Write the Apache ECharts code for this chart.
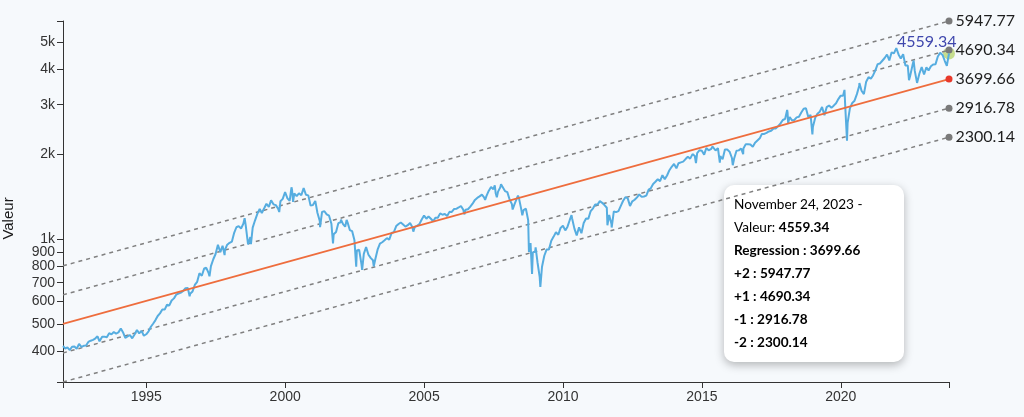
<!DOCTYPE html>
<html><head><meta charset="utf-8">
<script src="https://cdn.jsdelivr.net/npm/echarts@6/dist/echarts.min.js"></script>
<style>html,body{margin:0;padding:0;background:#f6f9fc;}#c{width:1024px;height:417px;}</style>
</head><body><div id="c"></div>
<script>
// ---- DATA ----
const startYear = 1992;
// S&P 500 month-end closes, Jan 1992 .. Oct 2023
const monthlyCloses = [
/*1992*/ 408.79,412.70,403.69,414.95,415.35,408.14,424.21,414.03,417.80,418.68,431.35,435.71,
/*1993*/ 438.78,443.38,451.67,440.19,450.19,450.53,448.13,463.56,458.93,467.83,461.79,466.45,
/*1994*/ 481.61,467.14,445.77,450.91,456.50,444.27,458.26,475.49,462.69,472.35,453.69,459.27,
/*1995*/ 470.42,487.39,500.71,514.71,533.40,544.75,562.06,561.88,584.41,581.50,605.37,615.93,
/*1996*/ 636.02,640.43,645.50,654.17,669.12,670.63,639.95,651.99,687.33,705.27,757.02,740.74,
/*1997*/ 786.16,790.82,757.12,801.34,848.28,885.14,954.29,899.47,947.28,914.62,955.40,970.43,
/*1998*/ 980.28,1049.34,1101.75,1111.75,1090.82,1133.84,1120.67,957.28,1017.01,1098.67,1163.63,1229.23,
/*1999*/ 1279.64,1238.33,1286.37,1335.18,1301.84,1372.71,1328.72,1320.41,1282.71,1362.93,1388.91,1469.25,
/*2000*/ 1394.46,1366.42,1498.58,1452.43,1420.60,1454.60,1430.83,1517.68,1436.51,1429.40,1314.95,1320.28,
/*2001*/ 1366.01,1239.94,1160.33,1249.46,1255.82,1224.42,1211.23,1133.58,1040.94,1059.78,1139.45,1148.08,
/*2002*/ 1130.20,1106.73,1147.39,1076.92,1067.14,989.82,911.62,916.07,815.28,885.76,936.31,879.82,
/*2003*/ 855.70,841.15,848.18,916.92,963.59,974.50,990.31,1008.01,995.97,1050.71,1058.20,1111.92,
/*2004*/ 1131.13,1144.94,1126.21,1107.30,1120.68,1140.84,1101.72,1104.24,1114.58,1130.20,1173.82,1211.92,
/*2005*/ 1181.27,1203.60,1180.59,1156.85,1191.50,1191.33,1234.18,1220.33,1228.81,1207.01,1249.48,1248.29,
/*2006*/ 1280.08,1280.66,1294.83,1310.61,1270.09,1270.20,1276.66,1303.82,1335.85,1377.94,1400.63,1418.30,
/*2007*/ 1438.24,1406.82,1420.86,1482.37,1530.62,1503.35,1455.27,1473.99,1526.75,1549.38,1481.14,1468.36,
/*2008*/ 1378.55,1330.63,1322.70,1385.59,1400.38,1280.00,1267.38,1282.83,1166.36,968.75,896.24,903.25,
/*2009*/ 825.88,735.09,797.87,872.81,919.14,919.32,987.48,1020.62,1057.08,1036.19,1095.63,1115.10,
/*2010*/ 1073.87,1104.49,1169.43,1186.69,1089.41,1030.71,1101.60,1049.33,1141.20,1183.26,1180.55,1257.64,
/*2011*/ 1286.12,1327.22,1325.83,1363.61,1345.20,1320.64,1292.28,1218.89,1131.42,1253.30,1246.96,1257.60,
/*2012*/ 1312.41,1365.68,1408.47,1397.91,1310.33,1362.16,1379.32,1406.58,1440.67,1412.16,1416.18,1426.19,
/*2013*/ 1498.11,1514.68,1569.19,1597.57,1630.74,1606.28,1685.73,1632.97,1681.55,1756.54,1805.81,1848.36,
/*2014*/ 1782.59,1859.45,1872.34,1883.95,1923.57,1960.23,1930.67,2003.37,1972.29,2018.05,2067.56,2058.90,
/*2015*/ 1994.99,2104.50,2067.89,2085.51,2107.39,2063.11,2103.84,1972.18,1920.03,2079.36,2080.41,2043.94,
/*2016*/ 1940.24,1932.23,2059.74,2065.30,2096.95,2098.86,2173.60,2170.95,2168.27,2126.15,2198.81,2238.83,
/*2017*/ 2278.87,2363.64,2362.72,2384.20,2411.80,2423.41,2470.30,2471.65,2519.36,2575.26,2647.58,2673.61,
/*2018*/ 2823.81,2713.83,2640.87,2648.05,2705.27,2718.37,2816.29,2901.52,2913.98,2711.74,2760.17,2506.85,
/*2019*/ 2704.10,2784.49,2834.40,2945.83,2752.06,2941.76,2980.38,2926.46,2976.74,3037.56,3140.98,3230.78,
/*2020*/ 3225.52,2954.22,2584.59,2912.43,3044.31,3100.29,3271.12,3500.31,3363.00,3269.96,3621.63,3756.07,
/*2021*/ 3714.24,3811.15,3972.89,4181.17,4204.11,4297.50,4395.26,4522.68,4307.54,4605.38,4567.00,4766.18,
/*2022*/ 4515.55,4373.94,4530.41,4131.93,4132.15,3785.38,4130.29,3955.00,3585.62,3871.98,4080.11,3839.50,
/*2023*/ 4076.60,3970.15,4109.31,4169.48,4179.83,4450.38,4588.96,4507.66,4288.05,4193.80
];
// Intra-month closes (highs / lows) visible in the daily curve
const intraMonth = [
["1992-01-02",417.26],["1993-04-26",433.54],["1994-04-04",438.92],["1996-07-24",626.65],
["1997-04-11",737.65],["1997-10-27",876.99],["1998-07-17",1186.75],["1998-10-08",959.44],
["1999-10-15",1247.41],["2000-03-24",1527.46],["2000-04-14",1356.56],["2000-09-01",1520.77],
["2001-04-04",1103.25],["2001-09-21",965.80],["2002-01-04",1172.51],["2002-03-19",1170.29],
["2002-07-23",797.70],["2002-10-09",776.76],["2003-03-11",800.73],["2004-08-12",1063.23],
["2006-06-13",1223.69],["2007-02-20",1459.68],["2007-03-14",1377.95],["2007-07-19",1553.08],
["2007-08-15",1406.70],["2007-10-09",1565.15],["2008-03-10",1273.37],["2008-05-19",1426.63],
["2008-07-15",1214.91],["2008-10-10",899.22],["2008-11-20",752.44],["2009-01-06",934.70],
["2009-03-09",676.53],["2010-04-23",1217.28],["2010-07-02",1022.58],["2011-08-08",1119.46],
["2011-10-03",1099.23],["2014-10-15",1862.49],["2015-05-21",2130.82],["2015-08-25",1867.61],
["2016-02-11",1829.08],["2016-06-27",2000.54],["2018-01-26",2872.87],["2018-02-08",2581.00],
["2018-09-20",2930.75],["2018-12-24",2351.10],["2019-06-03",2744.45],["2020-02-19",3386.15],
["2020-03-23",2237.40],["2020-09-02",3580.84],["2022-01-03",4796.56],["2022-06-16",3666.77],
["2022-08-16",4305.20],["2022-10-12",3577.03],["2023-10-27",4117.37],["2023-11-24",4559.34]
];
const lastLabel = "4559.34";
const bandNames = ["+2","+1","Regression","-1","-2"];
const bandStart = [803.8, 633.9, 500.0, 394.2, 310.9];
const bandEnd = [5947.77, 4690.34, 3699.66, 2916.78, 2300.14];
const yTickValues = [400,500,600,700,800,900,1000,2000,3000,4000,5000];
const xTickYears = [1995,2000,2005,2010,2015,2020];
const tooltipDate = "November 24, 2023 -";
const yName = "Valeur";

// ---- BUILD ----
function ts(s){const p=s.split('-').map(Number);return new Date(p[0],p[1]-1,p[2]).getTime();}
const pts = [];
monthlyCloses.forEach((v,i)=>{const y=startYear+Math.floor(i/12),m=i%12;pts.push([new Date(y,m+1,0).getTime(),v]);});
intraMonth.forEach(d=>pts.push([ts(d[0]),d[1]]));
pts.sort((a,b)=>a[0]-b[0]);
const t0 = pts[0][0], t1 = pts[pts.length-1][0];
const lastVal = pts[pts.length-1][1];
const yMin = Math.min(...bandStart), yMax = Math.max(...bandEnd);
const xTicks = xTickYears.map(y=>new Date(y,0,1).getTime());

const axisCol = '#333';
const labelFont = {fontFamily:'Liberation Sans, Arial, sans-serif', fontSize:14, color:'#333'};

const series = [{
  type:'line', data:pts, showSymbol:false, symbol:'none', z:3,
  lineStyle:{color:'#56ade0', width:2}, silent:true,
  endLabel:{show:true, formatter:lastLabel, distance:0, offset:[-52,-12],
    fontFamily:'Lato, sans-serif', fontSize:16, color:'#3f47ad'}
}];
bandNames.forEach((n,i)=>{
  const reg = n==='Regression';
  series.push({
    type:'line', name:n, z: reg?4:2, symbol:'none', showSymbol:true, silent:true,
    lineStyle: reg ? {color:'#ee6d3d', width:1.7} : {color:'#808080', width:1.5, type:[4,4]},
    data:[[t0,bandStart[i]], {value:[t1,bandEnd[i]], symbol:'circle', symbolSize:7,
      itemStyle:{color: reg?'#e8392b':'#7a7a7a'},
      label:{show:true, position:'right', distance:3, formatter: bandEnd[i].toFixed(2),
        fontFamily:'Lato, sans-serif', fontSize:16, color:'#1e1e1e'}}]
  });
});
series.push({
  type:'scatter', z:1, silent:true, data:[[t1,lastVal]], symbolSize:12,
  itemStyle:{color:'rgba(170,205,80,0.8)'}
});

const tipLines = [
  '{n|'+tooltipDate+'}',
  '{n|Valeur: }{b|'+lastVal.toFixed(2)+'}',
  '{b|Regression : '+bandEnd[2].toFixed(2)+'}',
  '{b|+2 : '+bandEnd[0].toFixed(2)+'}',
  '{b|+1 : '+bandEnd[1].toFixed(2)+'}',
  '{b|-1 : '+bandEnd[3].toFixed(2)+'}',
  '{b|-2 : '+bandEnd[4].toFixed(2)+'}'
];

const chart = echarts.init(document.getElementById('c'), null, {renderer:'canvas'});
chart.setOption({
  animation:false,
  backgroundColor:'#f6f9fc',
  grid:{left:63, right:75, top:21, bottom:35, containLabel:false, outerBoundsMode:'none'},
  xAxis:{
    type:'value', min:t0, max:t1, scale:true,
    axisLine:{show:true, lineStyle:{color:axisCol, width:1}},
    axisTick:{show:true, length:6, lineStyle:{color:axisCol}, customValues:[t0].concat(xTicks,[t1])},
    axisLabel:Object.assign({customValues:xTicks, margin:8, formatter:v=>String(new Date(v).getFullYear())}, labelFont),
    splitLine:{show:false}
  },
  yAxis:{
    type:'log', logBase:10, min:yMin, max:yMax,
    name:yName, nameLocation:'middle', nameGap:47,
    nameTextStyle:{fontFamily:'Liberation Sans, Arial, sans-serif', fontSize:15, color:'#1a1a1a', padding:[0,34,0,0]},
    axisLine:{show:true, lineStyle:{color:axisCol, width:1}},
    axisTick:{show:true, length:6, lineStyle:{color:axisCol}, customValues:[yMin].concat(yTickValues,[yMax])},
    axisLabel:Object.assign({customValues:yTickValues, margin:8, formatter:v=>v>=1000?(Math.round(v/1000)+'k'):String(Math.round(v))}, labelFont),
    splitLine:{show:false}
  },
  series:series,
  graphic:[{
    type:'group', left:724, top:185, silent:true,
    children:[
      {type:'rect', shape:{x:0,y:0,width:180,height:177,r:10},
       style:{fill:'#ffffff', shadowBlur:10, shadowColor:'rgba(0,0,0,0.28)', shadowOffsetY:3}},
      {type:'text', x:10, y:8.5, style:{
        text: tipLines.join('\n'),
        rich:{
          n:{fontFamily:'Lato, sans-serif', fontSize:13.6, color:'#555', lineHeight:23},
          b:{fontFamily:'Lato, sans-serif', fontSize:13.6, color:'#2a2a2a', fontWeight:'bold', lineHeight:23}
        }
      }}
    ]
  }]
});
</script></body></html>
